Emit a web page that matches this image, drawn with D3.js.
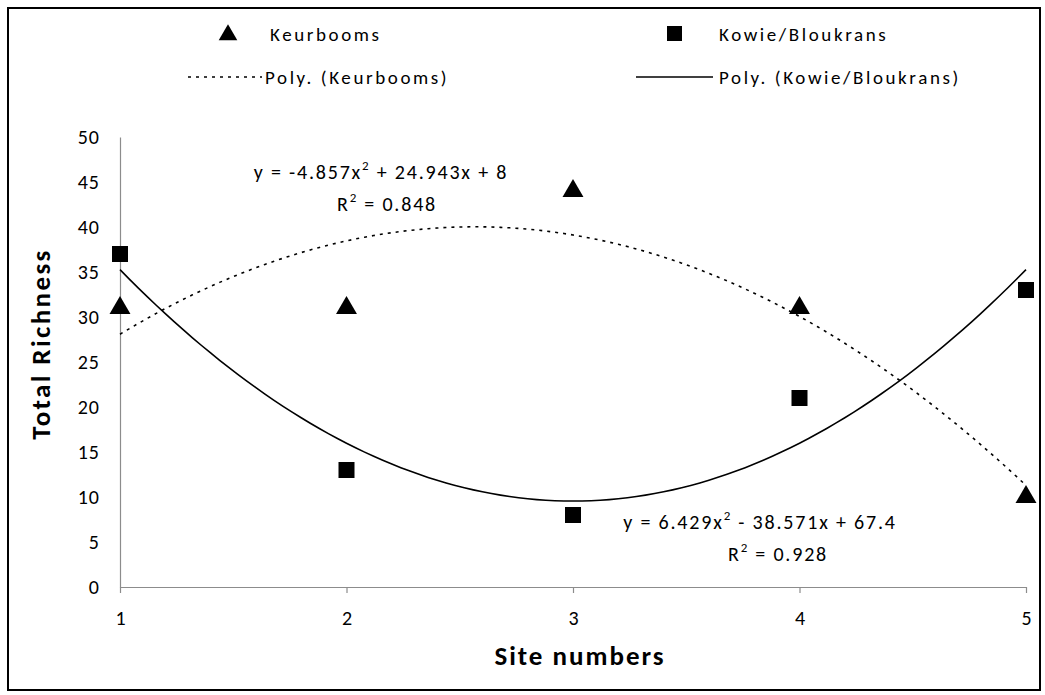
<!DOCTYPE html>
<html>
<head>
<meta charset="utf-8">
<script src="https://cdn.jsdelivr.net/npm/d3@7"></script>
<style>
  body { margin: 0; background: #fff; }
  svg text { font-family: Carlito, Lato, "Open Sans", sans-serif; fill: #000; }
</style>
</head>
<body>
<svg id="chart" width="1045" height="695"></svg>
<script>
// data
const sites = [1, 2, 3, 4, 5];
const keurbooms = [31, 31, 44, 31, 10];
const kowie = [37, 13, 8, 21, 33];
const yTicks = [0, 5, 10, 15, 20, 25, 30, 35, 40, 45, 50];
// trendline coefficients shown on the chart (a x^2 + b x + c)
const keurFit = [-4.857, 24.943, 8];
const kowieFit = [6.429, -38.571, 67.4];

const svg = d3.select('#chart');

svg.append('rect')
    .attr('x', 8).attr('y', 8)
    .attr('width', 1032).attr('height', 682)
    .attr('fill', '#fff')
    .attr('stroke', '#000')
    .attr('stroke-width', 2);

const x = d3.scaleLinear().domain([1, 5]).range([120, 1026]);
const y = d3.scaleLinear().domain([0, 50]).range([587, 137]);

const axisColor = '#8c8c8c';

// y axis
const yAxis = svg.append('g')
    .attr('transform', `translate(${x(1)},0)`)
    .call(d3.axisLeft(y).tickValues(yTicks).tickSize(0).tickPadding(20));
yAxis.select('.domain').attr('stroke', axisColor).attr('stroke-width', 1.2);
yAxis.selectAll('text')
    .attr('font-size', 20)
    .style('font-family', 'Carlito, Lato, sans-serif')
    .style('letter-spacing', '1px');

// x axis
const xAxis = svg.append('g')
    .attr('transform', `translate(0,${y(0)})`)
    .call(d3.axisBottom(x).tickValues(sites).tickFormat(d3.format('d')).tickSize(6).tickSizeOuter(0).tickPadding(18));
xAxis.select('.domain').attr('stroke', axisColor).attr('stroke-width', 1.2);
xAxis.selectAll('.tick line').attr('stroke', axisColor).attr('stroke-width', 1.2);
xAxis.selectAll('text')
    .attr('font-size', 20)
    .style('font-family', 'Carlito, Lato, sans-serif');

// axis titles
svg.append('text')
    .attr('x', 580).attr('y', 665)
    .attr('text-anchor', 'middle')
    .attr('font-size', 27).attr('font-weight', 'bold')
    .style('letter-spacing', '2px')
    .text('Site numbers');

svg.append('text')
    .attr('transform', 'translate(50,344) rotate(-90)')
    .attr('text-anchor', 'middle')
    .attr('font-size', 27).attr('font-weight', 'bold')
    .style('letter-spacing', '2.4px')
    .text('Total Richness');

// trendlines
const poly = (c, v) => c[0] * v * v + c[1] * v + c[2];
const xs = d3.range(1, 5.0001, 0.04);
const line = d3.line().x(d => x(d[0])).y(d => y(d[1]));

svg.append('path')
    .datum(xs.map(v => [v, poly(keurFit, v)]))
    .attr('d', line)
    .attr('fill', 'none')
    .attr('stroke', '#000')
    .attr('stroke-width', 1.6)
    .attr('stroke-dasharray', '3 5');

svg.append('path')
    .datum(xs.map(v => [v, poly(kowieFit, v)]))
    .attr('d', line)
    .attr('fill', 'none')
    .attr('stroke', '#000')
    .attr('stroke-width', 1.6);

// markers
const tri = d3.symbol().type(d3.symbolTriangle).size(190);
svg.append('g').selectAll('path')
    .data(sites.map((s, i) => [s, keurbooms[i]]))
    .join('path')
    .attr('transform', d => `translate(${x(d[0])},${y(d[1])})`)
    .attr('d', tri)
    .attr('fill', '#000');

svg.append('g').selectAll('rect')
    .data(sites.map((s, i) => [s, kowie[i]]))
    .join('rect')
    .attr('x', d => x(d[0]) - 8).attr('y', d => y(d[1]) - 8)
    .attr('width', 16).attr('height', 16)
    .attr('fill', '#000');

// equations
function equation(cx, cy, rx, parts, r2) {
    const t = svg.append('text')
        .attr('x', cx).attr('y', cy)
        .attr('text-anchor', 'middle')
        .attr('font-size', 20)
        .style('letter-spacing', '1.8px');
    t.append('tspan').text(parts[0]);
    t.append('tspan').attr('dy', -9).attr('font-size', 13).text('2');
    t.append('tspan').attr('dy', 9).text(parts[1]);
    const r = svg.append('text')
        .attr('x', rx).attr('y', cy + 32)
        .attr('text-anchor', 'middle')
        .attr('font-size', 20)
        .style('letter-spacing', '1.8px');
    r.append('tspan').text('R');
    r.append('tspan').attr('dy', -9).attr('font-size', 13).text('2');
    r.append('tspan').attr('dy', 9).text(' = ' + r2);
}
equation(381, 179, 387, ['y = -4.857x', ' + 24.943x + 8'], '0.848');
equation(760, 529, 778, ['y = 6.429x', ' - 38.571x + 67.4'], '0.928');

// legend
const legend = svg.append('g').attr('font-size', 19).style('letter-spacing', '2.6px');
legend.append('path')
    .attr('transform', 'translate(228,35)')
    .attr('d', d3.symbol().type(d3.symbolTriangle).size(150))
    .attr('fill', '#000');
legend.append('text').attr('x', 270).attr('y', 41).text('Keurbooms');
legend.append('line')
    .attr('x1', 188).attr('x2', 262).attr('y1', 77).attr('y2', 77)
    .attr('stroke', '#000').attr('stroke-width', 1.6).attr('stroke-dasharray', '3 5');
legend.append('text').attr('x', 265).attr('y', 84).text('Poly. (Keurbooms)');

legend.append('rect')
    .attr('x', 667).attr('y', 26).attr('width', 15).attr('height', 15)
    .attr('fill', '#000');
legend.append('text').attr('x', 719).attr('y', 41).text('Kowie/Bloukrans');
legend.append('line')
    .attr('x1', 636).attr('x2', 713).attr('y1', 77).attr('y2', 77)
    .attr('stroke', '#000').attr('stroke-width', 1.6);
legend.append('text').attr('x', 719).attr('y', 84).text('Poly. (Kowie/Bloukrans)');
</script>
</body>
</html>
